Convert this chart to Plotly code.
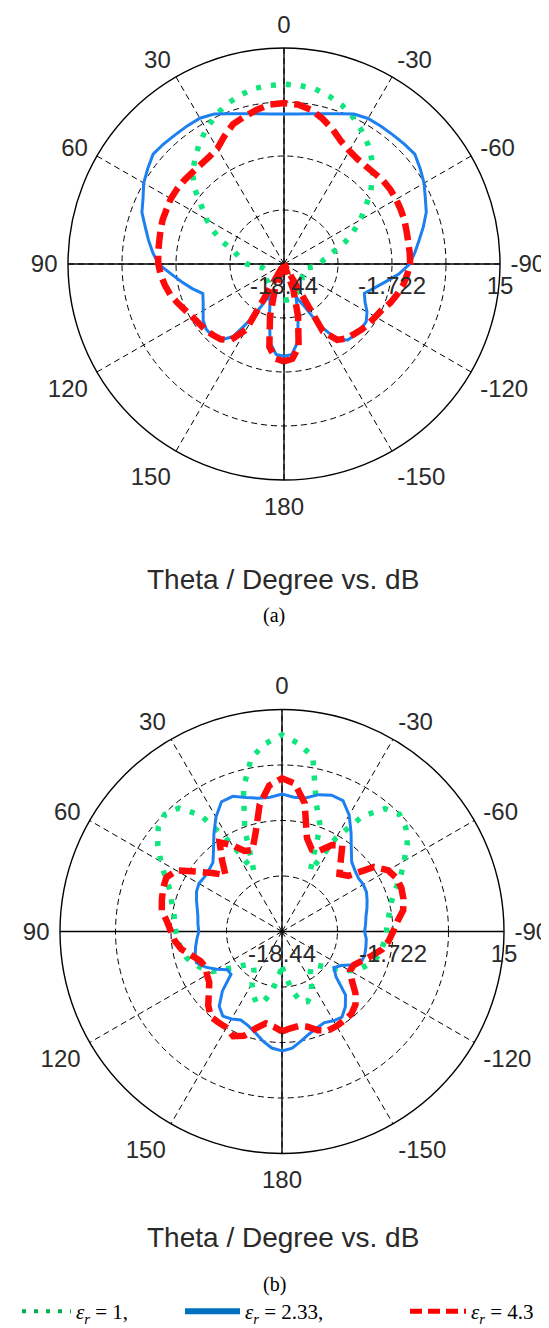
import plotly.graph_objects as go

# ---------------- data (dB) ----------------
angles_left = list(range(0, 185, 5))          # 0 .. 180  (theta > 0, left half)
angles_right = [-a for a in range(5, 185, 5)]  # -5 .. -180 (theta < 0, right half)

r_min, r_max = -18.44, 15.0
radial_ticks = [-18.44, -10.08, -1.722, 6.639, 15.0]
radial_text = ["-18.44", "", "-1.722", "", "15"]
angular_ticks = [0, 30, 60, 90, 120, 150, 180, 210, 240, 270, 300, 330]
angular_text = ["0", "30", "60", "90", "120", "150", "180", "-150", "-120", "-90", "-60", "-30"]

# (a)
green_a_left = [9.41, 9.28, 9.11, 8.51, 7.81, 6.81, 5.64, 4.40, 2.96, 1.60, -0.40, -2.86, -4.56, -6.40,
                -8.24, -10.25, -11.25, -12.09, -12.69, -14.09, -15.10, -15.33, -15.26, -15.16, -15.10,
                -15.00, -14.86, -14.76, -14.69, -14.43, -14.09, -13.76, -13.42, -13.09, -12.92, -12.86, -12.86]
green_a_right = [9.30, 9.10, 8.48, 7.75, 6.70, 5.50, 4.20, 2.70, 1.00, -0.90, -3.00, -4.80, -6.60, -8.30,
                 -10.20, -11.50, -12.40, -12.80, -13.70, -14.90, -15.30, -15.30, -15.20, -15.10, -15.00,
                 -14.80, -14.70, -14.60, -14.40, -14.00, -13.60, -13.30, -13.06, -12.90, -12.85, -12.86]
blue_a_left = [4.77, 4.87, 5.17, 5.64, 6.31, 7.17, 7.62, 7.66, 7.71, 7.88, 8.01, 7.31, 6.64, 5.64,
               4.97, 3.80, 2.86, 1.96, 1.02, -0.88, -2.39, -3.73, -5.06, -4.63, -3.99, -3.16, -2.72,
               -2.72, -3.06, -4.73, -9.08, -13.09, -12.09, -9.75, -6.07, -4.40, -4.16]
blue_a_right = [4.87, 5.17, 5.64, 6.31, 7.17, 7.58, 7.64, 7.71, 7.85, 8.00, 7.30, 6.60, 5.70, 5.00,
                3.90, 2.80, 1.90, 1.00, -0.60, -2.50, -4.00, -5.20, -4.60, -3.60, -2.90, -2.80,
                -2.90, -3.10, -4.20, -7.50, -11.50, -13.00, -10.00, -6.20, -4.40, -4.16]
red_a_left = [6.47, 6.34, 5.80, 5.20, 4.60, 3.40, 2.20, 1.79, 1.62, 1.62, 1.72, 1.79, 1.79, 1.62,
              1.56, 1.36, 1.19, 1.12, 1.02, 0.72, 0.29, -0.21, -0.88, -1.55, -2.05, -2.39, -2.56,
              -2.89, -3.23, -4.06, -6.74, -18.44, -14.43, -10.08, -5.40, -3.73, -3.36]
red_a_right = [6.34, 5.80, 4.80, 3.70, 2.50, 1.80, 1.40, 1.30, 1.40, 1.60, 1.66, 1.60, 1.50, 1.40,
               1.20, 1.10, 1.10, 1.09, 0.70, 0.30, -0.30, -0.90, -1.70, -2.10, -2.40, -2.70, -3.10,
               -3.40, -4.10, -6.40, -18.44, -14.20, -10.00, -5.40, -3.70, -3.36]

# (b)
green_b_left = [11.19, 9.98, 8.14, 4.00, -2.05, -8.41, -3.06, 2.96, 5.80, 6.51, 5.90, 4.40, 2.63, 0.96,
                -0.55, -1.22, -1.89, -2.22, -2.46, -2.66, -3.06, -3.49, -4.23, -5.23, -6.40, -8.74,
                -10.41, -11.42, -11.75, -11.08, -9.41, -8.07, -7.07, -7.40, -9.08, -11.42, -13.09]
green_b_right = [10.00, 8.30, 1.50, -1.60, -8.40, -2.20, 2.80, 5.70, 6.55, 5.90, 4.60, 2.80, 1.30, -0.30,
                 -1.40, -2.00, -2.50, -2.70, -2.90, -3.20, -3.60, -4.30, -5.30, -6.60, -8.60, -10.20,
                 -11.30, -11.60, -11.00, -9.50, -8.00, -7.20, -7.50, -9.30, -11.50, -13.09]
blue_b_left = [2.26, 1.86, 1.96, 2.46, 3.23, 3.13, 1.46, -0.55, -2.39, -3.73, -4.06, -4.16, -3.99, -4.23,
               -4.73, -5.23, -5.57, -5.73, -5.90, -5.57, -5.23, -4.90, -4.73, -5.73, -7.07, -8.41,
               -8.41, -5.73, -3.73, -2.89, -3.23, -3.73, -3.39, -2.72, -1.72, -0.82, -0.45]
blue_b_right = [1.86, 2.00, 2.90, 3.40, 3.30, 1.80, -0.30, -2.20, -3.60, -4.10, -4.40, -4.30, -4.40,
                -4.80, -5.20, -5.60, -5.80, -6.00, -5.70, -5.60, -5.50, -5.60, -6.60, -8.20, -8.90,
                -7.80, -4.90, -3.60, -2.70, -2.90, -3.30, -3.00, -2.50, -1.70, -0.80, -0.45]
red_b_left = [4.63, 3.63, 0.96, -3.06, -5.40, -5.06, -3.39, -2.05, -4.40, -6.40, -4.73, -2.72, -0.05,
              0.79, 0.62, 0.29, -0.05, -1.05, -1.72, -2.22, -3.06, -4.40, -5.40, -5.73, -5.40, -5.06,
              -4.06, -2.72, -1.72, -1.72, -1.72, -1.05, -1.72, -3.39, -4.40, -4.06, -3.39]
red_b_right = [3.90, 1.20, -3.90, -5.30, -5.00, -3.40, -2.60, -4.70, -6.20, -5.40, -1.50, 0.00, 0.60,
               0.70, 0.50, 0.10, -1.00, -1.70, -2.30, -3.10, -4.40, -5.60, -6.50, -6.60, -5.60, -4.00,
               -2.80, -2.20, -2.10, -2.00, -2.00, -2.60, -3.60, -4.00, -3.80, -3.39]

series_names = ["<i>ε<sub>r</sub></i> = 1,", "<i>ε<sub>r</sub></i> = 2.33,", "<i>ε<sub>r</sub></i> = 4.3"]
captions = ["(a)", "(b)"]
axis_title = "Theta / Degree vs. dB"

# ---------------- styling ----------------
GREEN = "#10E67E"
BLUE = "#1C80F0"
RED = "#FF0A0A"
TICK_FONT = dict(family="Liberation Sans", size=24, color="#2a2a2a")

plot_styles = [
    dict(color=GREEN, width=5.5, dash="5px,10px"),
    dict(color=BLUE, width=3),
    dict(color=RED, width=6.5, dash="17px,7px"),
]
legend_styles = [
    dict(color="#00B050", width=4, dash="4px,8px"),
    dict(color="#0070C0", width=6),
    dict(color="#FF0000", width=5, dash="12px,6px"),
]
legend_ids = ["legend", "legend2", "legend3"]


def full(left, right):
    theta = list(reversed(angles_right)) + angles_left
    r = list(reversed(right)) + left
    return theta, r


fig = go.Figure()

for sub, data in (("polar", [(green_a_left, green_a_right), (blue_a_left, blue_a_right), (red_a_left, red_a_right)]),
                  ("polar2", [(green_b_left, green_b_right), (blue_b_left, blue_b_right), (red_b_left, red_b_right)])):
    # solid cross axes through the centre
    fig.add_trace(go.Scatterpolar(r=[r_max, r_min, r_max], theta=[90, 0, -90], mode="lines",
                                  line=dict(color="black", width=1.4), subplot=sub,
                                  showlegend=False, hoverinfo="skip"))
    fig.add_trace(go.Scatterpolar(r=[r_max, r_min, r_max], theta=[0, 0, 180], mode="lines",
                                  line=dict(color="black", width=1.4), subplot=sub,
                                  showlegend=False, hoverinfo="skip"))
    for i, (left, right) in enumerate(data):
        th, rr = full(left, right)
        fig.add_trace(go.Scatterpolar(r=rr, theta=th, mode="lines", line=plot_styles[i], subplot=sub,
                                      showlegend=False, hoverinfo="skip"))

# legend-only entries (styled like the figure's caption legend)
for i in range(3):
    fig.add_trace(go.Scatterpolar(r=[None], theta=[None], mode="lines", line=legend_styles[i],
                                  subplot="polar", name=series_names[i], legend=legend_ids[i],
                                  showlegend=True, hoverinfo="skip"))


def polar_layout(xd, yd):
    return dict(
        domain=dict(x=xd, y=yd),
        bgcolor="white",
        radialaxis=dict(range=[r_min, r_max], tickvals=radial_ticks, ticktext=radial_text,
                        angle=0, side="clockwise", showline=False, gridcolor="black",
                        griddash="6px,4px", gridwidth=1, ticks="outside", ticklen=1,
                        tickcolor="rgba(0,0,0,0)", tickfont=TICK_FONT),
        angularaxis=dict(rotation=90, direction="counterclockwise", tickmode="array",
                         tickvals=angular_ticks, ticktext=angular_text, showline=True,
                         linecolor="black", linewidth=1.4, gridcolor="black", griddash="6px,4px",
                         gridwidth=1, ticks="outside", ticklen=5, tickcolor="rgba(0,0,0,0)",
                         tickfont=TICK_FONT),
    )


W, H = 549, 1328
LEG_FONT = dict(family="Liberation Serif", size=21, color="black")
LEG_Y = 4 / H
fig.update_layout(
    width=W, height=H, autosize=False,
    margin=dict(l=0, r=0, t=0, b=0),
    paper_bgcolor="white",
    polar=polar_layout([60 / W, 492 / W], [1 - 472 / H, 1 - 40 / H]),
    polar2=polar_layout([52 / W, 496 / W], [1 - 1145.5 / H, 1 - 701.5 / H]),
    legend=dict(x=9 / W, y=LEG_Y, xanchor="left", yanchor="bottom", bgcolor="rgba(0,0,0,0)",
                itemwidth=49, font=LEG_FONT),
    legend2=dict(x=172 / W, y=LEG_Y, xanchor="left", yanchor="bottom", bgcolor="rgba(0,0,0,0)",
                 itemwidth=55, font=LEG_FONT),
    legend3=dict(x=397 / W, y=LEG_Y, xanchor="left", yanchor="bottom", bgcolor="rgba(0,0,0,0)",
                 itemwidth=56, font=LEG_FONT),
    showlegend=True,
)

for ycap, ylab, txt in ((571, 607, captions[0]), (1247, 1290, captions[1])):
    fig.add_annotation(x=275 / W, y=1 - ycap / H, xref="paper", yref="paper", text=axis_title,
                       showarrow=False, font=dict(family="Liberation Sans", size=28, color="#2a2a2a"))
    fig.add_annotation(x=266 / W, y=1 - ylab / H, xref="paper", yref="paper", text=txt,
                       showarrow=False, font=dict(family="Liberation Serif", size=20, color="black"))

fig.write_html("out.html")
